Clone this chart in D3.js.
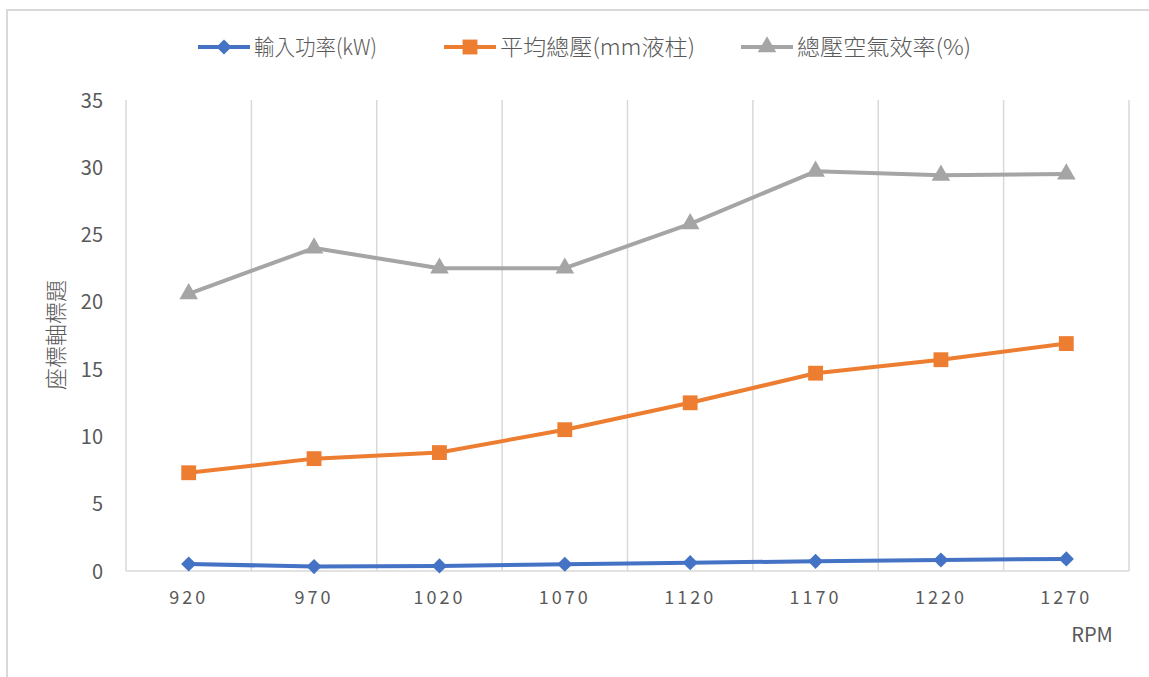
<!DOCTYPE html>
<html>
<head>
<meta charset="utf-8">
<script src="https://cdn.jsdelivr.net/npm/d3@7"></script>
<style>
  body { margin: 0; background: #fff; }
  text { font-family: "Noto Sans CJK TC", "Noto Sans", sans-serif; fill: #595959; }
</style>
</head>
<body>
<div class="chart"></div>
<script>
var svgWidth = 1149;
var svgHeight = 677;

var margin = { top: 100, right: 20, bottom: 106, left: 126 };
var width = 1129 - margin.left;
var height = 571 - margin.top;

// chart data
var rpm = ["920", "970", "1020", "1070", "1120", "1170", "1220", "1270"];
var inputPower = [0.52, 0.33, 0.38, 0.5, 0.62, 0.72, 0.82, 0.9];
var avgPressure = [7.3, 8.35, 8.8, 10.5, 12.5, 14.7, 15.7, 16.9];
var efficiency = [20.6, 24.0, 22.5, 22.5, 25.8, 29.7, 29.4, 29.5];
var yTicks = [0, 5, 10, 15, 20, 25, 30, 35];

var series = [
  { name: "輸入功率(kW)", values: inputPower, color: "#4472C4", symbol: d3.symbolSquare, size: 115, rot: 45, textLen: 123 },
  { name: "平均總壓(mm液柱)", values: avgPressure, color: "#ED7D31", symbol: d3.symbolSquare, size: 220, rot: 0, textLen: 195 },
  { name: "總壓空氣效率(%)", values: efficiency, color: "#A5A5A5", symbol: d3.symbolTriangle, size: 150, rot: 0, textLen: 174 }
];

var svg = d3.select(".chart")
  .append("svg")
  .attr("width", svgWidth)
  .attr("height", svgHeight);

// outer chart border (only top and left show)
svg.append("rect")
  .attr("x", 7)
  .attr("y", 10)
  .attr("width", svgWidth + 20)
  .attr("height", svgHeight + 20)
  .attr("fill", "none")
  .attr("stroke", "#d9d9d9")
  .attr("stroke-width", 2);

var chartGroup = svg.append("g")
  .attr("transform", `translate(${margin.left}, ${margin.top})`);

var xBand = d3.scaleBand().domain(rpm).range([0, width]);
var yScale = d3.scaleLinear().domain([0, 35]).range([height, 0]);

// vertical gridlines at category boundaries
var bounds = rpm.map(d => xBand(d)).concat([width]);
chartGroup.selectAll("line.grid")
  .data(bounds)
  .enter()
  .append("line")
  .attr("x1", d => d)
  .attr("x2", d => d)
  .attr("y1", 0)
  .attr("y2", height)
  .attr("stroke", "#d9d9d9")
  .attr("stroke-width", 1.5);

// bottom axis line
chartGroup.append("line")
  .attr("x1", 0).attr("x2", width)
  .attr("y1", height).attr("y2", height)
  .attr("stroke", "#d9d9d9")
  .attr("stroke-width", 1.5);

// y axis labels
var yAxis = chartGroup.append("g")
  .call(d3.axisLeft(yScale).tickValues(yTicks).tickSize(0).tickPadding(23));
yAxis.select(".domain").remove();
yAxis.selectAll("text")
  .attr("font-size", "20px")
  .attr("dy", "0.35em");

// x axis labels
var xAxis = chartGroup.append("g")
  .attr("transform", `translate(0, ${height})`)
  .call(d3.axisBottom(xBand).tickSize(0).tickPadding(20));
xAxis.select(".domain").remove();
xAxis.selectAll("text")
  .attr("font-size", "18px")
  .attr("letter-spacing", "3px");

var line = d3.line()
  .x((d, i) => xBand(rpm[i]) + xBand.bandwidth() / 2)
  .y(d => yScale(d));

series.forEach(function(s) {
  chartGroup.append("path")
    .datum(s.values)
    .attr("d", line)
    .attr("fill", "none")
    .attr("stroke", s.color)
    .attr("stroke-width", 4)
    .attr("stroke-linejoin", "round");

  chartGroup.selectAll(null)
    .data(s.values)
    .enter()
    .append("path")
    .attr("d", d3.symbol().type(s.symbol).size(s.size))
    .attr("transform", (d, i) => `translate(${xBand(rpm[i]) + xBand.bandwidth() / 2}, ${yScale(d)}) rotate(${s.rot})`)
    .attr("fill", s.color);
});

// axis titles
svg.append("text")
  .attr("transform", "translate(64, 335) rotate(-90)")
  .attr("text-anchor", "middle")
  .attr("font-size", "22px")
  .attr("font-weight", 300)
  .text("座標軸標題");

svg.append("text")
  .attr("x", 1092)
  .attr("y", 642)
  .attr("text-anchor", "middle")
  .attr("font-size", "20px")
  .text("RPM");

// legend
var legendX = [198, 444, 741];
var legend = svg.selectAll("g.legend")
  .data(series)
  .enter()
  .append("g")
  .attr("transform", (d, i) => `translate(${legendX[i]}, 47)`);

legend.append("line")
  .attr("x1", 0).attr("x2", 52)
  .attr("stroke", d => d.color)
  .attr("stroke-width", 4);

legend.append("path")
  .attr("d", d => d3.symbol().type(d.symbol).size(d.size)())
  .attr("transform", d => `translate(26, 0) rotate(${d.rot})`)
  .attr("fill", d => d.color);

legend.append("text")
  .attr("x", 56)
  .attr("dy", "0.35em")
  .attr("font-size", "22px")
  .attr("font-weight", 300)
  .attr("textLength", d => d.textLen)
  .attr("lengthAdjust", "spacingAndGlyphs")
  .text(d => d.name);
</script>
</body>
</html>
